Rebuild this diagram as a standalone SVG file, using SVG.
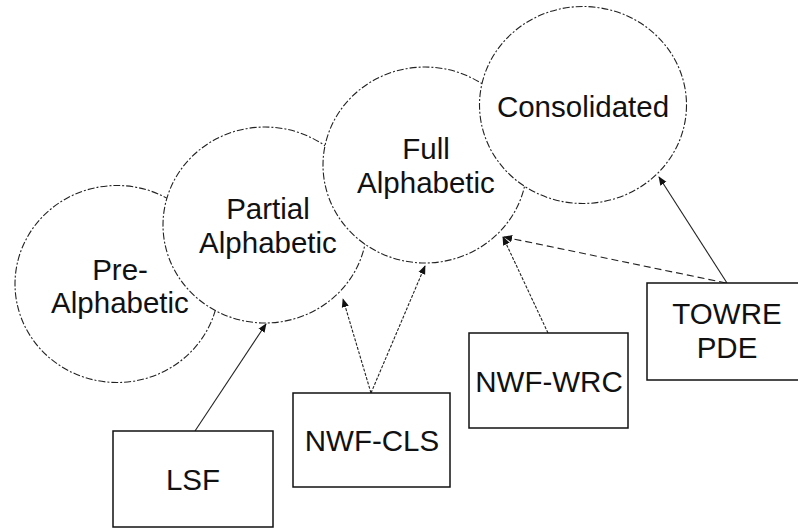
<svg xmlns="http://www.w3.org/2000/svg" width="798" height="528" viewBox="0 0 798 528">
<style>
.stage ellipse{fill:#fff;stroke:#222;stroke-width:1.1;stroke-dasharray:7 2 2 2}
.box rect{fill:#fff;stroke:#111;stroke-width:1.5}
text{font-family:"Liberation Sans",Arial,sans-serif;font-size:29.5px;fill:#111;text-anchor:middle}
.conn line{stroke:#222;stroke-width:1.1;fill:none;marker-end:url(#ah)}
.conn .dot{stroke-dasharray:3 1.5}
.conn .dash{stroke-dasharray:7 4}
</style>
<defs>
<marker id="ah" viewBox="0 0 10 10" refX="9" refY="5" markerWidth="9" markerHeight="9" markerUnits="userSpaceOnUse" orient="auto">
<path d="M0,1 L10,5 L0,9 Z" fill="#111"/>
</marker>
</defs>
<rect width="798" height="528" fill="#fff"/>
<g id="pre-alphabetic" class="stage">
<ellipse cx="117" cy="284" rx="102" ry="98.5"/>
<text x="120" y="280">Pre-</text>
<text x="120" y="313">Alphabetic</text>
</g>
<g id="partial-alphabetic" class="stage">
<ellipse cx="265" cy="225" rx="102" ry="98"/>
<text x="268" y="219">Partial</text>
<text x="268" y="253">Alphabetic</text>
</g>
<g id="full-alphabetic" class="stage">
<ellipse cx="425" cy="165" rx="102" ry="98"/>
<text x="426" y="159">Full</text>
<text x="426" y="193">Alphabetic</text>
</g>
<g id="consolidated" class="stage">
<ellipse cx="583" cy="105" rx="103.5" ry="98.5"/>
<text x="583" y="117">Consolidated</text>
</g>
<g id="connectors" class="conn">
<line x1="195" y1="431" x2="266" y2="324"/>
<line class="dot" x1="371" y1="393" x2="343" y2="299"/>
<line class="dot" x1="371" y1="393" x2="425" y2="266"/>
<line class="dot" x1="548" y1="333" x2="503" y2="237"/>
<line class="dash" x1="726" y1="283" x2="504" y2="237"/>
<line x1="727" y1="283" x2="659" y2="177"/>
</g>
<g id="lsf" class="box">
<rect x="113" y="431" width="160" height="96"/>
<text x="193" y="490">LSF</text>
</g>
<g id="nwf-cls" class="box">
<rect x="293" y="393" width="157" height="94"/>
<text x="372" y="451">NWF-CLS</text>
</g>
<g id="nwf-wrc" class="box">
<rect x="469" y="333" width="159" height="95"/>
<text x="549" y="392">NWF-WRC</text>
</g>
<g id="towre-pde" class="box">
<rect x="647" y="283" width="160" height="97"/>
<text x="727" y="324">TOWRE</text>
<text x="727" y="358">PDE</text>
</g>
</svg>
